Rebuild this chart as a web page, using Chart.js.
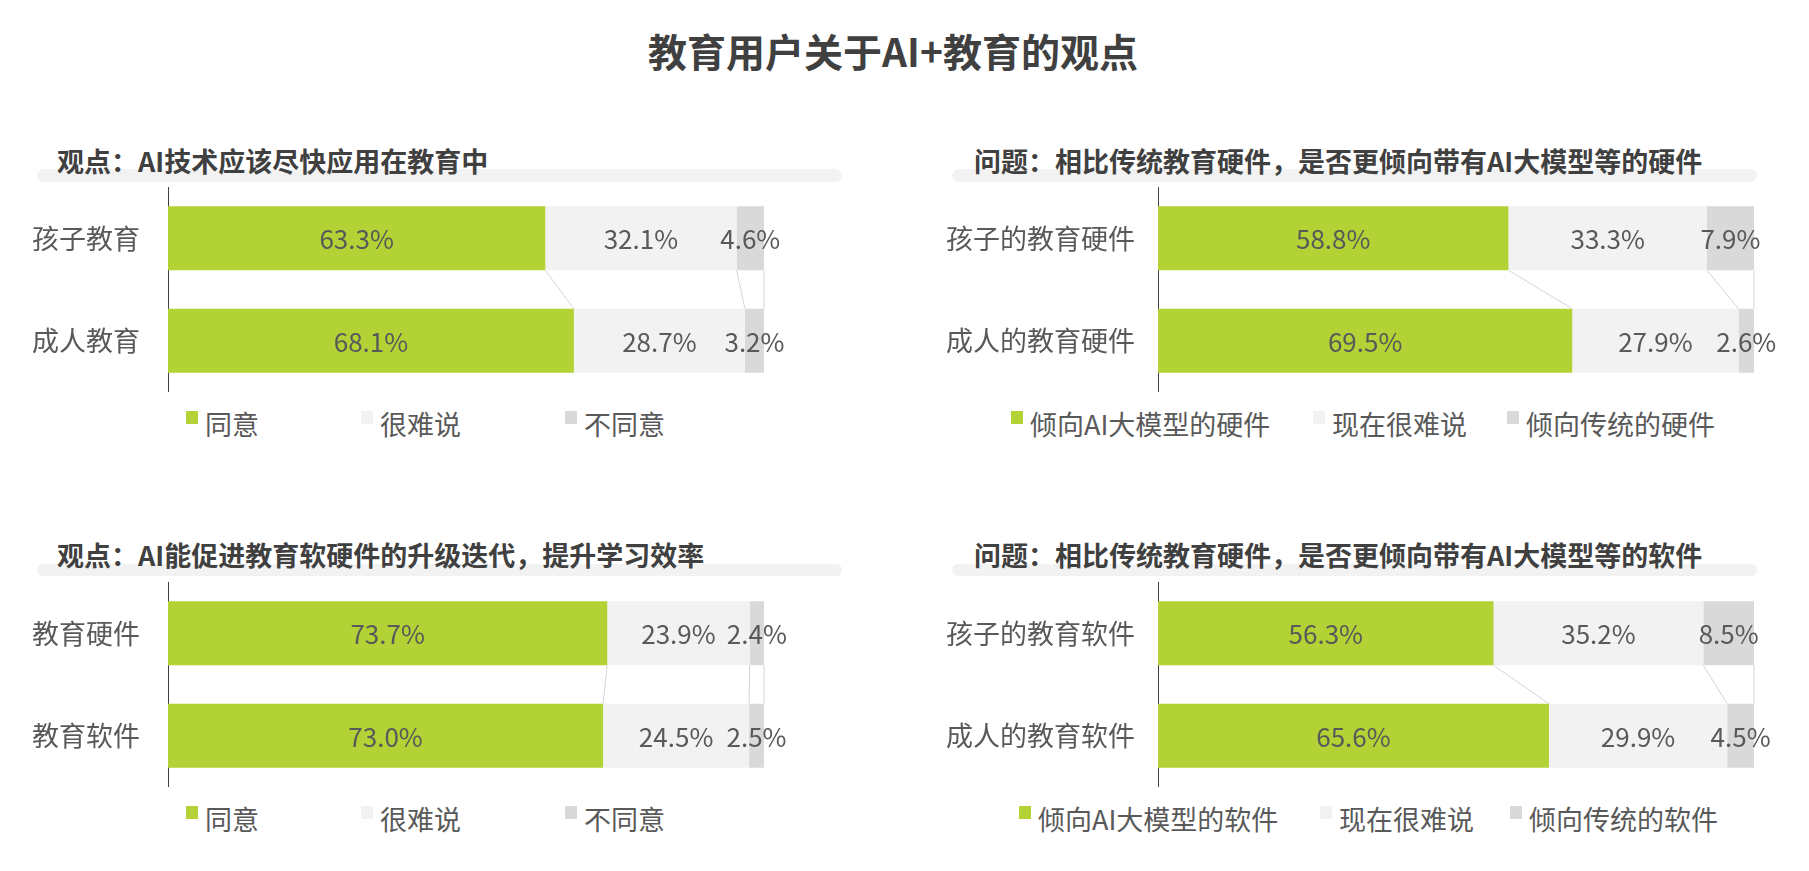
<!DOCTYPE html>
<html lang="zh-CN">
<head>
<meta charset="utf-8">
<title>教育用户关于AI+教育的观点</title>
<script src="https://cdn.jsdelivr.net/npm/chart.js@4.4.1/dist/chart.umd.min.js"></script>
<style>
  html, body { margin: 0; background: #fff; }
  #page {
    position: relative; width: 1809px; height: 871px; overflow: hidden;
    font-family: "Noto Sans CJK SC", "Noto Sans", sans-serif; color: #595959;
  }
  .title {
    position: absolute; top: 30px; left: 0; width: 1786px; text-align: center;
    font-size: 39px; line-height: 40px; font-weight: bold; color: #404040;
  }
  .strip { position: absolute; height: 13px; background: #f2f2f2; border-radius: 7px; }
  .subtitle {
    position: absolute; font-size: 27px; line-height: 28px; font-weight: bold;
    color: #404040; white-space: nowrap;
  }
  .legend-item {
    position: absolute; display: flex; align-items: flex-start;
    font-size: 27px; line-height: 27px; white-space: nowrap;
  }
  .legend-item i { display: block; width: 12px; height: 13px; margin: 1px 7px 0 0; }
  canvas { position: absolute; }
</style>
</head>
<body>
<div id="page">
  <div class="title"></div>
</div>
<script>
const mainTitle = '教育用户关于AI+教育的观点';

// panel 1
const subtitle1 = '观点：AI技术应该尽快应用在教育中';
const categories1 = ['孩子教育', '成人教育'];
const legend1 = ['同意', '很难说', '不同意'];
const agree1 = [63.3, 68.1];
const unsure1 = [32.1, 28.7];
const disagree1 = [4.6, 3.2];

// panel 2
const subtitle2 = '问题：相比传统教育硬件，是否更倾向带有AI大模型等的硬件';
const categories2 = ['孩子的教育硬件', '成人的教育硬件'];
const legend2 = ['倾向AI大模型的硬件', '现在很难说', '倾向传统的硬件'];
const aiHardware = [58.8, 69.5];
const unsureHardware = [33.3, 27.9];
const tradHardware = [7.9, 2.6];

// panel 3
const subtitle3 = '观点：AI能促进教育软硬件的升级迭代，提升学习效率';
const categories3 = ['教育硬件', '教育软件'];
const legend3 = ['同意', '很难说', '不同意'];
const agree3 = [73.7, 73.0];
const unsure3 = [23.9, 24.5];
const disagree3 = [2.4, 2.5];

// panel 4
const subtitle4 = '问题：相比传统教育硬件，是否更倾向带有AI大模型等的软件';
const categories4 = ['孩子的教育软件', '成人的教育软件'];
const legend4 = ['倾向AI大模型的软件', '现在很难说', '倾向传统的软件'];
const aiSoftware = [56.3, 65.6];
const unsureSoftware = [35.2, 29.9];
const tradSoftware = [8.5, 4.5];

const FONT = '"Noto Sans CJK SC", "Noto Sans", sans-serif';
const seriesColors = ['#b2d235', '#f2f2f2', '#d9d9d9'];

// layout of each panel, in page pixels
const panels = [
  {left: 0, top: 187, width: 820, axisX: 168, areaRight: 764, tickPad: 28,
    subtitle: subtitle1, subX: 57, subY: 147, strip: [37, 169, 805, 13],
    legendX: [186, 361, 565], legendY: 410,
    categories: categories1, names: legend1, series: [agree1, unsure1, disagree1]},
  {left: 900, top: 187, width: 900, axisX: 1158, areaRight: 1754, tickPad: 23,
    subtitle: subtitle2, subX: 974, subY: 147, strip: [952, 169, 805, 13],
    legendX: [1011, 1313, 1507], legendY: 410,
    categories: categories2, names: legend2, series: [aiHardware, unsureHardware, tradHardware]},
  {left: 0, top: 582, width: 820, axisX: 168, areaRight: 764, tickPad: 28,
    subtitle: subtitle3, subX: 57, subY: 541, strip: [37, 564, 805, 12],
    legendX: [186, 361, 565], legendY: 805,
    categories: categories3, names: legend3, series: [agree3, unsure3, disagree3]},
  {left: 900, top: 582, width: 900, axisX: 1158, areaRight: 1754, tickPad: 23,
    subtitle: subtitle4, subX: 974, subY: 541, strip: [952, 564, 805, 12],
    legendX: [1019, 1320, 1510], legendY: 805,
    categories: categories4, names: legend4, series: [aiSoftware, unsureSoftware, tradSoftware]}
];

const page = document.getElementById('page');
page.querySelector('.title').textContent = mainTitle;

// value in the middle of each segment
const valueLabels = {
  id: 'valueLabels',
  afterDatasetsDraw(chart) {
    const {ctx} = chart;
    ctx.save();
    ctx.font = `26px ${FONT}`;
    ctx.fillStyle = '#595959';
    ctx.textAlign = 'center';
    ctx.textBaseline = 'middle';
    chart.data.datasets.forEach((ds, i) => {
      chart.getDatasetMeta(i).data.forEach((bar, j) => {
        const {x, y, base} = bar.getProps(['x', 'y', 'base'], true);
        ctx.fillText(ds.data[j].toFixed(1) + '%', (x + base) / 2, y + 1);
      });
    });
    ctx.restore();
  }
};

// thin connectors between the ends of the stacked segments (Excel series lines)
const seriesLines = {
  id: 'seriesLines',
  beforeDatasetsDraw(chart) {
    const {ctx} = chart;
    ctx.save();
    ctx.strokeStyle = '#d4d4d4';
    ctx.lineWidth = 1;
    chart.data.datasets.forEach((ds, i) => {
      const bars = chart.getDatasetMeta(i).data;
      for (let j = 0; j < bars.length - 1; j++) {
        const a = bars[j].getProps(['x', 'y', 'height'], true);
        const b = bars[j + 1].getProps(['x', 'y', 'height'], true);
        ctx.beginPath();
        ctx.moveTo(a.x, a.y + a.height / 2);
        ctx.lineTo(b.x, b.y - b.height / 2);
        ctx.stroke();
      }
    });
    ctx.restore();
  }
};

function addDiv(cls, text, left, top) {
  const el = document.createElement('div');
  el.className = cls;
  if (text) el.textContent = text;
  el.style.left = left + 'px';
  el.style.top = top + 'px';
  page.appendChild(el);
  return el;
}

function makePanel(p) {
  const [sx, sy, sw, sh] = p.strip;
  const strip = addDiv('strip', '', sx, sy);
  strip.style.width = sw + 'px';
  strip.style.height = sh + 'px';
  addDiv('subtitle', p.subtitle, p.subX, p.subY);

  p.names.forEach((name, i) => {
    const item = addDiv('legend-item', '', p.legendX[i], p.legendY);
    const box = document.createElement('i');
    box.style.background = seriesColors[i];
    item.appendChild(box);
    item.appendChild(document.createTextNode(name));
  });

  const canvas = document.createElement('canvas');
  canvas.width = p.width;
  canvas.height = 205;
  canvas.style.left = p.left + 'px';
  canvas.style.top = p.top + 'px';
  page.appendChild(canvas);

  return new Chart(canvas, {
    type: 'bar',
    data: {
      labels: p.categories,
      datasets: p.series.map((data, i) => ({
        label: p.names[i],
        data: data,
        backgroundColor: seriesColors[i],
        borderWidth: 0,
        barPercentage: 1,
        categoryPercentage: 0.625
      }))
    },
    options: {
      indexAxis: 'y',
      responsive: false,
      animation: false,
      layout: {
        padding: {top: 0, bottom: 0, left: 0, right: p.left + p.width - p.areaRight}
      },
      plugins: {legend: {display: false}, tooltip: {enabled: false}},
      scales: {
        x: {stacked: true, min: 0, max: 100, display: false},
        y: {
          stacked: true,
          z: 1,
          grid: {display: false, drawTicks: false},
          border: {color: '#404040', width: 1},
          ticks: {padding: p.tickPad, color: '#595959', font: {size: 27, family: FONT}},
          afterFit(scale) {
            // fixed axis position; the tick padding should not shrink the plot vertically
            scale.width = p.axisX - p.left;
            scale.paddingTop = 0;
            scale.paddingBottom = 0;
          }
        }
      }
    },
    plugins: [seriesLines, valueLabels]
  });
}

panels.forEach(makePanel);
</script>
</body>
</html>
